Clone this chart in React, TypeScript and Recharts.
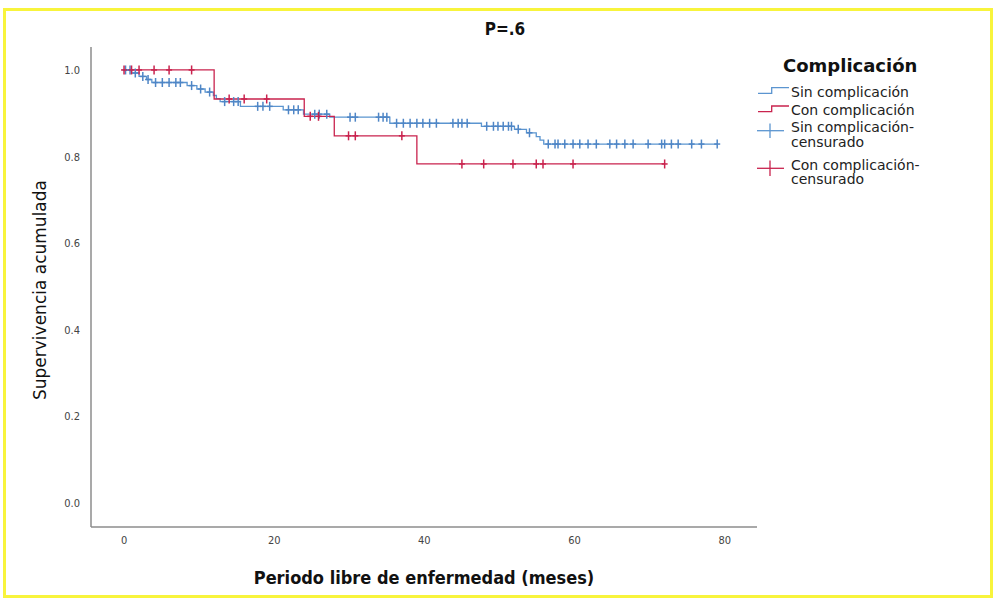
import React from 'react';
import { ComposedChart, Line, Scatter, XAxis, YAxis, Label } from 'recharts';

const BLUE = '#5b95d0';
const BLUE_MARK = '#4f86c6';
const RED = '#c9234e';

// Sin complicación: step times (months) and survival after each step
const sinTimes = [0, 1, 2, 3, 3.7, 8.4, 9.7, 10.8, 11.9, 12.3, 12.8, 15.5, 21.2, 23.9, 27.4, 35.4, 47.6, 52, 53.6, 54.9, 55.4, 55.9, 79];
const sinSurv = [1, 0.993, 0.985, 0.978, 0.971, 0.964, 0.956, 0.949, 0.941, 0.934, 0.927, 0.916, 0.908, 0.898, 0.891, 0.877, 0.87, 0.863, 0.855, 0.846, 0.838, 0.829, 0.829];
const sinCensored = [
  0.2, 0.8, 1.5, 2.5, 3.2, 4.2, 5.1, 6.0, 6.9, 7.5, 9, 10.2, 11.4, 13.4, 14.6, 15.2,
  17.8, 18.5, 19.4, 21.9, 22.6, 23.2, 25.4, 26, 27, 30.1, 30.8, 33.9, 34.5, 35, 36.3,
  37.2, 38.1, 39, 39.8, 40.7, 41.6, 43.8, 44.5, 45, 45.7, 48.3, 49.2, 49.8, 50.5, 51.2,
  51.6, 52.5, 54, 56.5, 57.4, 57.8, 58.7, 59.8, 60.7, 61.8, 62.9, 64.7, 65.6, 66.7,
  67.8, 69.8, 71.6, 72, 72.9, 73.8, 75.6, 76.9, 79,
];

// Con complicación
const conTimes = [0, 12, 24, 28, 39, 72];
const conSurv = [1, 0.933, 0.893, 0.848, 0.783, 0.783];
const conCensored = [0, 1, 2, 4, 6, 9, 14, 16, 19, 24.8, 25.9, 29.9, 30.8, 37, 45, 47.9, 51.8, 54.9, 55.8, 59.8, 72];

const xTicks = [0, 20, 40, 60, 80];
const yTicks = [0, 0.2, 0.4, 0.6, 0.8, 1.0];

const toCurve = (times: number[], surv: number[]) => times.map((t, i) => ({ t, s: surv[i] }));

// survival level of a step curve at time x
const levelAt = (times: number[], surv: number[], x: number) => {
  let v = surv[0];
  for (let i = 0; i < times.length; i++) if (times[i] <= x) v = surv[i];
  return v;
};

const sinCurve = toCurve(sinTimes, sinSurv);
const conCurve = toCurve(conTimes, conSurv);
const sinMarks = sinCensored.map((t) => ({ t, s: levelAt(sinTimes, sinSurv, t) }));
const conMarks = conCensored.map((t) => ({ t, s: levelAt(conTimes, conSurv, t) }));

const cross = (color: string) => (props: any) => {
  const { cx, cy } = props;
  return (
    <g stroke={color} strokeWidth={1.5}>
      <line x1={cx} x2={cx} y1={cy - 4.5} y2={cy + 4.5} />
      <line x1={cx - 3} x2={cx + 3} y1={cy} y2={cy} />
    </g>
  );
};

const condensed = '"DejaVu Sans Condensed", "DejaVu Sans", sans-serif';
const sans = '"DejaVu Sans", sans-serif';

function KMLegend() {
  const txt = { fontFamily: sans, fontSize: 14, fill: '#222' };
  return (
    <svg width={240} height={140} style={{ position: 'absolute', left: 755, top: 50 }}>
      <text x={28} y={15} dominantBaseline="central" fontFamily={sans} fontSize={18} fontWeight="bold" fill="#111">
        Complicación
      </text>
      <path d="M3 43.3H16.7V37.7H34" fill="none" stroke={BLUE} strokeWidth={1.3} />
      <text x={36} y={41.7} dominantBaseline="central" {...txt}>Sin complicación</text>
      <path d="M3 61.7H16.7V56H34" fill="none" stroke={RED} strokeWidth={1.3} />
      <text x={36} y={60} dominantBaseline="central" {...txt}>Con complicación</text>
      <line x1={2} x2={29} y1={80.7} y2={80.7} stroke={BLUE} strokeWidth={1.3} />
      <line x1={15} x2={15} y1={73.5} y2={88} stroke={BLUE} strokeWidth={1.3} />
      <text x={36} y={77.3} dominantBaseline="central" {...txt}>Sin complicación-</text>
      <text x={36} y={92} dominantBaseline="central" {...txt}>censurado</text>
      <line x1={2} x2={29} y1={118.3} y2={118.3} stroke={RED} strokeWidth={1.3} />
      <line x1={15} x2={15} y1={110.5} y2={126} stroke={RED} strokeWidth={1.3} />
      <text x={36} y={114.5} dominantBaseline="central" {...txt}>Con complicación-</text>
      <text x={36} y={129} dominantBaseline="central" {...txt}>censurado</text>
    </svg>
  );
}

export default function App() {
  return (
    <div style={{ position: 'absolute', left: 0, top: 0, width: 997, height: 600, background: '#fff' }}>
      <div
        style={{
          position: 'absolute',
          left: 3,
          top: 8,
          width: 990,
          height: 590,
          border: '3px solid #f8f43c',
          boxSizing: 'border-box',
        }}
      />
      <div
        style={{
          position: 'absolute',
          left: 405,
          width: 200,
          top: 19,
          textAlign: 'center',
          fontFamily: condensed,
          fontWeight: 'bold',
          fontSize: 17,
          color: '#111',
        }}
      >
        P=.6
      </div>
      <ComposedChart
        width={997}
        height={600}
        margin={{ top: 47, right: 240, bottom: 13, left: 31 }}
        style={{ position: 'absolute', left: 0, top: 0 }}
      >
        <XAxis
          dataKey="t"
          type="number"
          domain={[-4.4, 84.3]}
          ticks={xTicks}
          allowDataOverflow
          tickLine={false}
          tickSize={0}
          tickMargin={9}
          height={60}
          axisLine={{ stroke: '#8c8c8c', strokeWidth: 1.5 }}
          tick={{ fill: '#444', fontSize: 11, fontFamily: condensed }}
        >
          <Label
            value="Periodo libre de enfermedad (meses)"
            position="insideBottom"
            offset={3}
            fill="#111"
            fontSize={18}
            fontWeight="bold"
            fontFamily={condensed}
          />
        </XAxis>
        <YAxis
          dataKey="s"
          type="number"
          domain={[-0.055, 1.053]}
          ticks={yTicks}
          allowDataOverflow
          tickLine={false}
          tickSize={0}
          tickMargin={11}
          width={60}
          tickFormatter={(v: number) => v.toFixed(1)}
          axisLine={{ stroke: '#8c8c8c', strokeWidth: 1.5 }}
          tick={{ fill: '#444', fontSize: 11, fontFamily: condensed }}
        >
          <Label
            value="Supervivencia acumulada"
            angle={-90}
            position="insideLeft"
            offset={9}
            dy={3}
            style={{ textAnchor: 'middle' }}
            fill="#111"
            fontSize={17}
            fontFamily={sans}
          />
        </YAxis>
        <Line data={sinCurve} dataKey="s" type="stepAfter" stroke={BLUE} strokeWidth={1.3} dot={false} activeDot={false} isAnimationActive={false} />
        <Line data={conCurve} dataKey="s" type="stepAfter" stroke={RED} strokeWidth={1.3} dot={false} activeDot={false} isAnimationActive={false} />
        <Scatter data={sinMarks} dataKey="s" shape={cross(BLUE_MARK)} isAnimationActive={false} />
        <Scatter data={conMarks} dataKey="s" shape={cross(RED)} isAnimationActive={false} />
      </ComposedChart>
      <KMLegend />
    </div>
  );
}
